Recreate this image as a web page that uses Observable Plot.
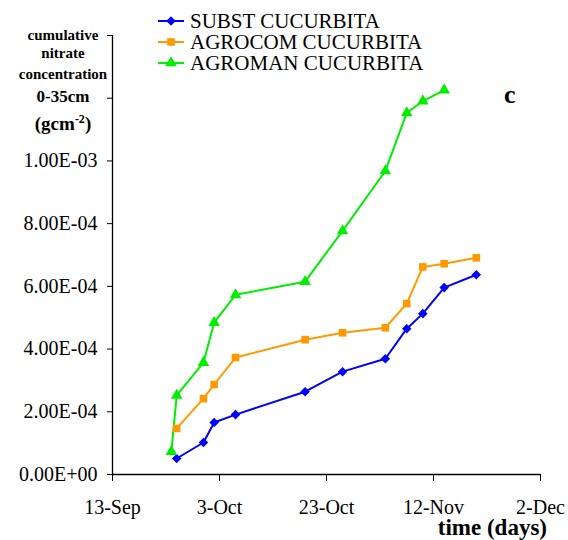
<!DOCTYPE html>
<html>
<head>
<meta charset="utf-8">
<script src="https://cdn.jsdelivr.net/npm/d3@7"></script>
<script src="https://cdn.jsdelivr.net/npm/@observablehq/plot@0.6"></script>
</head>
<body style="margin:0;padding:0;background:#fff">
<div id="wrap" style="position:relative;width:568px;height:540px;font-family:'Liberation Serif';color:#000">
  <div id="chart" style="position:absolute;left:0;top:0;font-family:'Liberation Serif'"></div>
  <div style="position:absolute;left:13px;width:100px;top:25px;line-height:20px;text-align:center;font-weight:bold;white-space:nowrap;font-family:'Liberation Serif';font-size:15px">cumulative</div>
  <div style="position:absolute;left:13px;width:100px;top:43px;line-height:20px;text-align:center;font-weight:bold;white-space:nowrap;font-family:'Liberation Serif';font-size:15px">nitrate</div>
  <div style="position:absolute;left:13px;width:100px;top:64px;line-height:20px;text-align:center;font-weight:bold;white-space:nowrap;font-family:'Liberation Serif';font-size:15px">concentration</div>
  <div style="position:absolute;left:13px;width:100px;top:87px;line-height:20px;text-align:center;font-weight:bold;white-space:nowrap;font-family:'Liberation Serif';font-size:17px">0-35cm</div>
  <div style="position:absolute;left:13px;width:100px;top:114px;line-height:20px;text-align:center;font-weight:bold;white-space:nowrap;font-family:'Liberation Serif';font-size:19px">(gcm<sup style="font-size:12px;line-height:0">-2</sup>)</div>
  <div style="position:absolute;left:157px;top:11px;height:20px;line-height:20px;display:flex;align-items:center;white-space:nowrap;font-family:'Liberation Serif';font-size:21px"><svg width="28" height="20" class="legicon" style="display:block;margin-right:5px"></svg><span>SUBST CUCURBITA</span></div>
  <div style="position:absolute;left:157px;top:32px;height:20px;line-height:20px;display:flex;align-items:center;white-space:nowrap;font-family:'Liberation Serif';font-size:21px"><svg width="28" height="20" class="legicon" style="display:block;margin-right:5px"></svg><span>AGROCOM CUCURBITA</span></div>
  <div style="position:absolute;left:157px;top:53px;height:20px;line-height:20px;display:flex;align-items:center;white-space:nowrap;font-family:'Liberation Serif';font-size:21px"><svg width="28" height="20" class="legicon" style="display:block;margin-right:5px"></svg><span>AGROMAN CUCURBITA</span></div>
  <div style="position:absolute;right:21px;top:516px;line-height:24px;white-space:nowrap;font-family:'Liberation Serif';font-size:23px;font-weight:bold">time (days)</div>
  <div style="position:absolute;left:504px;top:80px;line-height:30px;white-space:nowrap;font-family:'Liberation Serif';font-size:26px;font-weight:bold">c</div>
</div>
<script>
// ---- data ----
const seriesNames = ["SUBST CUCURBITA", "AGROCOM CUCURBITA", "AGROMAN CUCURBITA"];
const seriesColors = ["#0000ff", "#ff9900", "#00ee00"];
const seriesSymbols = ["diamond2", "square", "triangle"];

const substDates = ["2003-09-25","2003-09-30","2003-10-02","2003-10-06","2003-10-19","2003-10-26","2003-11-03","2003-11-07","2003-11-10","2003-11-14","2003-11-20"];
const substValues = [5.1e-5, 1.02e-4, 1.66e-4, 1.91e-4, 2.64e-4, 3.28e-4, 3.69e-4, 4.65e-4, 5.13e-4, 5.96e-4, 6.37e-4];

const agrocomDates = ["2003-09-25","2003-09-30","2003-10-02","2003-10-06","2003-10-19","2003-10-26","2003-11-03","2003-11-07","2003-11-10","2003-11-14","2003-11-20"];
const agrocomValues = [1.47e-4, 2.42e-4, 2.87e-4, 3.73e-4, 4.30e-4, 4.52e-4, 4.68e-4, 5.45e-4, 6.62e-4, 6.72e-4, 6.91e-4];

const agromanDates = ["2003-09-24","2003-09-25","2003-09-30","2003-10-02","2003-10-06","2003-10-19","2003-10-26","2003-11-03","2003-11-07","2003-11-10","2003-11-14"];
const agromanValues = [7.3e-5, 2.52e-4, 3.57e-4, 4.84e-4, 5.73e-4, 6.15e-4, 7.77e-4, 9.68e-4, 1.153e-3, 1.191e-3, 1.226e-3];

const xDomain = ["2003-09-13", "2003-12-02"];
const xTickDates = ["2003-09-13","2003-10-03","2003-10-23","2003-11-12","2003-12-02"];
const xTickLabels = ["13-Sep","3-Oct","23-Oct","12-Nov","2-Dec"];

const yDomain = [0, 1.4e-3];
const yTicks = [0, 2e-4, 4e-4, 6e-4, 8e-4, 1e-3, 1.2e-3, 1.4e-3];
const yTickLabels = ["0.00E+00","2.00E-04","4.00E-04","6.00E-04","8.00E-04","1.00E-03","",""];

// ---- build table ----
const parse = s => new Date(s + "T00:00:00Z");
const allDates = [substDates, agrocomDates, agromanDates];
const allValues = [substValues, agrocomValues, agromanValues];
const rows = [];
seriesNames.forEach((name, k) => {
  allDates[k].forEach((d, i) => rows.push({series: name, date: parse(d), value: allValues[k][i]}));
});

const chart = Plot.plot({
  width: 568,
  height: 540,
  marginLeft: 112,
  marginRight: 28,
  marginTop: 35,
  marginBottom: 66,
  style: "font-family:'Liberation Serif';font-size:20px;color:#000;background:transparent",
  x: {type: "utc", domain: xDomain.map(parse), axis: null},
  y: {domain: yDomain, axis: null},
  color: {domain: seriesNames, range: seriesColors},
  symbol: {domain: seriesNames, range: seriesSymbols},
  marks: [
    Plot.axisX({ticks: xTickDates.map(parse), tickFormat: (d, i) => xTickLabels[i], tickSize: 7, tickPadding: 18, stroke: "#000", strokeOpacity: 1, fontSize: 20, label: null}),
    Plot.axisY({ticks: yTicks, tickFormat: (d, i) => yTickLabels[i], tickSize: 5, tickPadding: 10, stroke: "#000", strokeOpacity: 1, fontSize: 20, label: null}),
    Plot.ruleX([parse(xDomain[0])], {stroke: "#000", strokeWidth: 1.3}),
    Plot.ruleY([yDomain[0]], {stroke: "#000", strokeWidth: 1.3}),
    Plot.line(rows, {x: "date", y: "value", z: "series", stroke: "series", strokeWidth: 2}),
    Plot.dot(rows, {x: "date", y: "value", fill: "series", symbol: "series", r: 4.3, stroke: null})
  ]
});
document.getElementById("chart").appendChild(chart);

// legend icons
const symMap = {diamond2: d3.symbolDiamond2 || d3.symbolDiamond, square: d3.symbolSquare, triangle: d3.symbolTriangle};
document.querySelectorAll(".legicon").forEach((svg, k) => {
  const sym = d3.symbol().type(symMap[seriesSymbols[k]]).size(4.3 * 4.3 * Math.PI)();
  svg.innerHTML = `<line x1="1" x2="27" y1="10" y2="10" stroke="${seriesColors[k]}" stroke-width="2"/><path d="${sym}" transform="translate(14,10)" fill="${seriesColors[k]}"/>`;
});
</script>
</body>
</html>
